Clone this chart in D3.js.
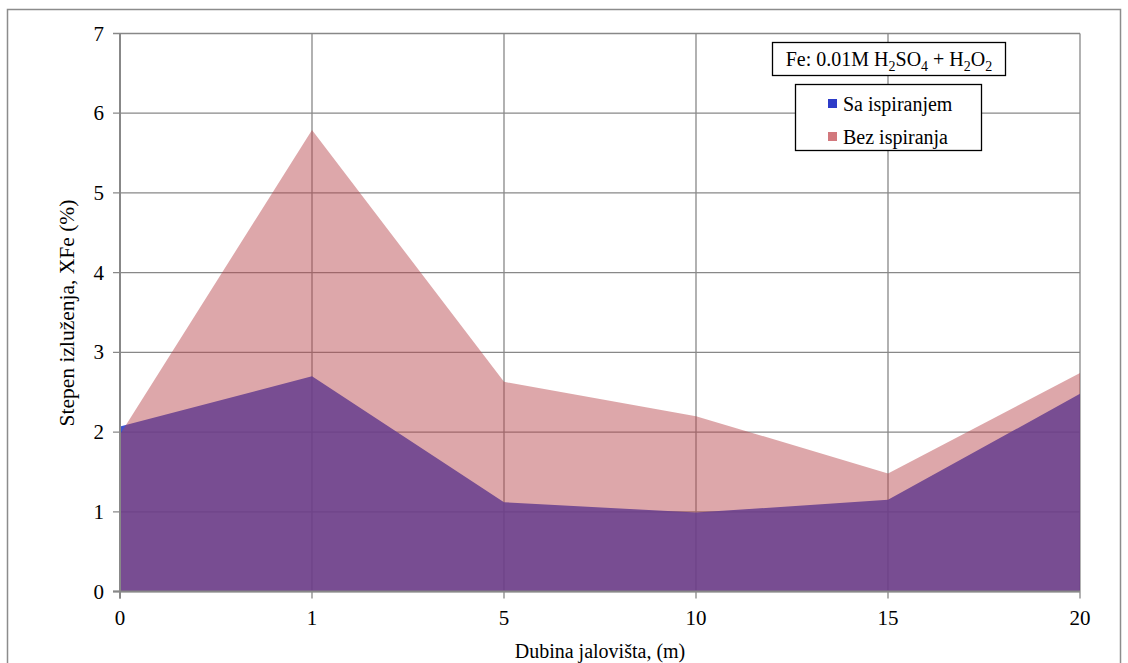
<!DOCTYPE html>
<html><head><meta charset="utf-8">
<script src="https://cdn.jsdelivr.net/npm/d3@7"></script>
<style>body{margin:0;background:#fff}svg{display:block;font-family:"Liberation Serif","Times New Roman",serif}</style>
</head><body><svg id="c" width="1128" height="663"></svg>
<script>
const categories = ["0","1","5","10","15","20"];
const saIspiranjem = [2.07, 2.70, 1.12, 0.99, 1.15, 2.48];
const bezIspiranja = [1.97, 5.79, 2.63, 2.20, 1.48, 2.74];
const yTicks = [0,1,2,3,4,5,6,7];
const seriesNames = ["Sa ispiranjem","Bez ispiranja"];

const svg = d3.select("#c");
const L = 120, R = 1080, T = 33.5, B = 591.5;
const x = d3.scalePoint().domain(categories).range([L, R]);
const y = d3.scaleLinear().domain([0, 7]).range([B, T]);

// outer frame
svg.append("rect").attr("x",7.5).attr("y",9.5).attr("width",1113).attr("height",670)
  .attr("fill","none").attr("stroke","#8c8c8c").attr("stroke-width",1.5);

// grid
const g = svg.append("g");
g.selectAll(".hg").data(yTicks).join("line")
  .attr("x1", L-7).attr("x2", R).attr("y1", d=>y(d)).attr("y2", d=>y(d))
  .attr("stroke","#888").attr("stroke-width",1.3);
g.selectAll(".vg").data(categories).join("line")
  .attr("x1", d=>x(d)).attr("x2", d=>x(d)).attr("y1", T).attr("y2", B+7)
  .attr("stroke","#888").attr("stroke-width",1.3);

const area = d3.area().x((d,i)=>x(categories[i])).y0(y(0)).y1(d=>y(d));
svg.append("path").datum(saIspiranjem).attr("d", area)
  .attr("fill","rgb(31,55,201)").attr("fill-opacity",0.85);
svg.append("path").datum(bezIspiranja).attr("d", area)
  .attr("fill","rgb(182,68,74)").attr("fill-opacity",0.47);

// axes lines
svg.append("line").attr("x1",L).attr("x2",L).attr("y1",T).attr("y2",B+7).attr("stroke","#888").attr("stroke-width",2);
svg.append("line").attr("x1",L-7).attr("x2",R).attr("y1",B).attr("y2",B).attr("stroke","#888").attr("stroke-width",2);

// tick labels
svg.selectAll(".yl").data(yTicks).join("text")
  .attr("x", 104).attr("y", d=>y(d)+7).attr("text-anchor","end")
  .attr("font-size",21).attr("fill","#000").text(d=>d);
svg.selectAll(".xl").data(categories).join("text")
  .attr("x", d=>x(d)).attr("y", 625).attr("text-anchor","middle")
  .attr("font-size",21).attr("fill","#000").text(d=>d);

// axis titles
svg.append("text").attr("x",600).attr("y",658).attr("text-anchor","middle")
  .attr("font-size",20).text("Dubina jalovišta, (m)");
svg.append("text").attr("transform","translate(74,313) rotate(-90)").attr("text-anchor","middle")
  .attr("font-size",21.5).text("Stepen izluženja, XFe (%)");

// title box
svg.append("rect").attr("x",772.5).attr("y",42.5).attr("width",233).attr("height",33)
  .attr("fill","#fff").attr("stroke","#000").attr("stroke-width",1.3);
const tt = svg.append("text").attr("x",889).attr("y",66).attr("text-anchor","middle").attr("font-size",20);
tt.append("tspan").text("Fe: 0.01M H");
tt.append("tspan").attr("font-size",14).attr("dy",5).text("2");
tt.append("tspan").attr("dy",-5).text("SO");
tt.append("tspan").attr("font-size",14).attr("dy",5).text("4");
tt.append("tspan").attr("dy",-5).text(" + H");
tt.append("tspan").attr("font-size",14).attr("dy",5).text("2");
tt.append("tspan").attr("dy",-5).text("O");
tt.append("tspan").attr("font-size",14).attr("dy",5).text("2");

// legend
svg.append("rect").attr("x",795.5).attr("y",84.5).attr("width",186).attr("height",66)
  .attr("fill","#fff").attr("stroke","#000").attr("stroke-width",1.3);
const legColors = ["rgb(45,60,200)","rgb(210,120,125)"];
const leg = svg.selectAll(".lg").data(seriesNames).join("g")
  .attr("transform",(d,i)=>`translate(828,${104 + i*33})`);
leg.append("rect").attr("x",0).attr("y",-5).attr("width",9).attr("height",9)
  .attr("fill",(d,i)=>legColors[i]);
leg.append("text").attr("x",15).attr("y",7).attr("font-size",20).text(d=>d);
</script></body></html>
